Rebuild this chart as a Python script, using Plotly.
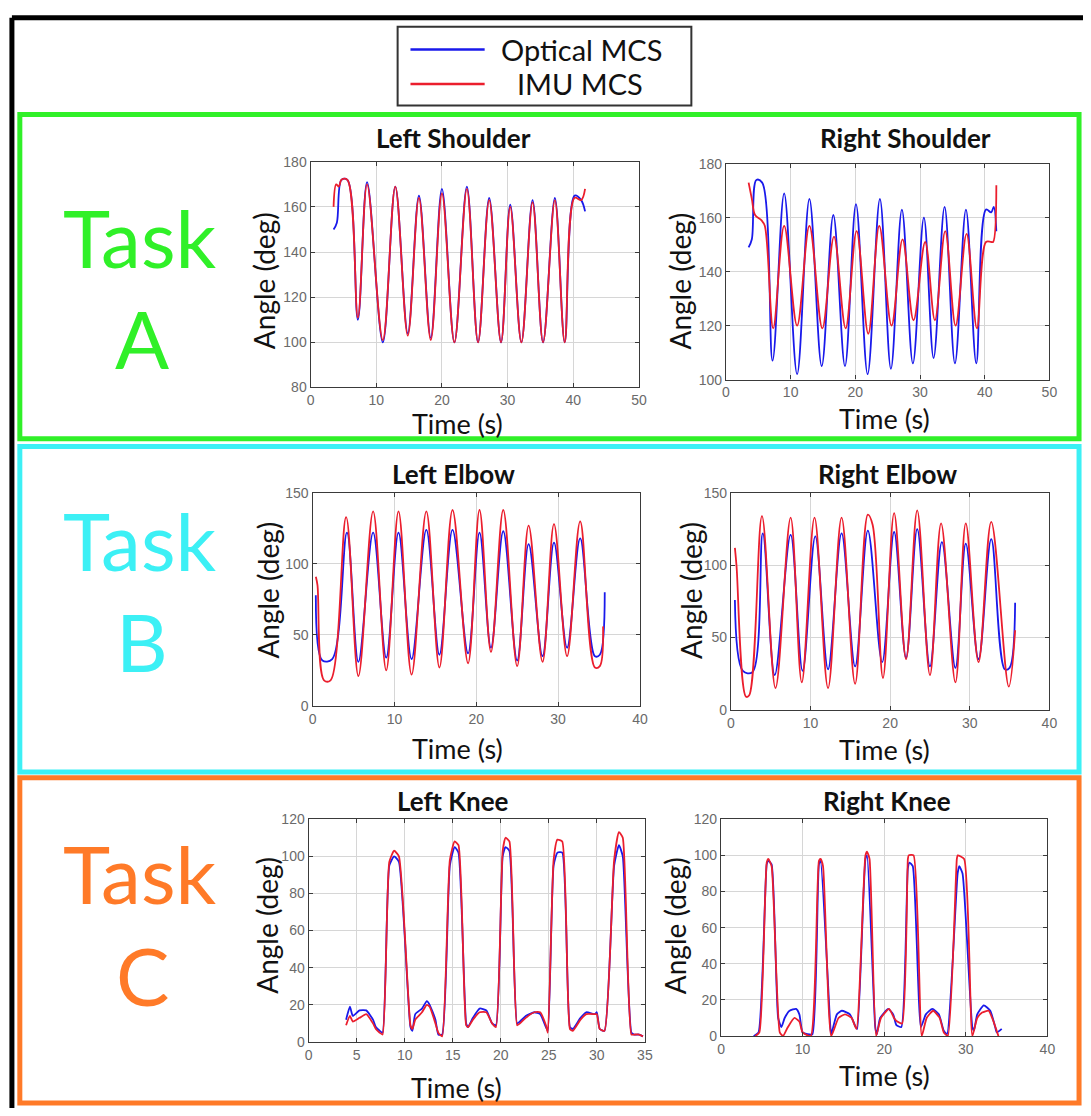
import plotly.graph_objects as go

W, H = 1091, 1116

# ---------------- data ----------------
ls_t_opt = [3.5, 4.0, 4.7, 5.6, 7.2, 8.6, 11.0, 12.9, 14.8, 16.5, 18.3, 20.0, 21.9, 23.8, 25.5, 27.2, 29.0, 30.4, 32.1, 33.8, 35.4, 37.2, 38.7, 40.2, 41.2, 41.8]
ls_opt = [150, 153, 172, 172, 110, 171, 100, 169, 104, 165, 102, 168, 100, 169, 100, 164, 100, 161, 100, 163, 100, 164, 100, 165, 163, 158]
ls_t_imu = [3.5, 3.9, 4.3, 4.7, 5.6, 7.2, 8.6, 11.0, 12.9, 14.8, 16.5, 18.3, 20.0, 21.9, 23.8, 25.5, 27.2, 29.0, 30.4, 32.1, 33.8, 35.4, 37.2, 38.7, 40.2, 41.2, 41.8]
ls_imu = [160, 170, 169, 172, 172, 111, 170, 101, 169, 103, 164, 101, 166, 100, 168, 100, 163, 100, 160, 100, 162, 100, 163, 100, 164, 163, 168]

rs_t_opt = [3.5, 4.0, 4.7, 5.6, 7.2, 9.0, 11.0, 12.9, 14.8, 16.6, 18.4, 20.1, 21.9, 23.8, 25.5, 27.2, 28.9, 30.6, 32.1, 33.8, 35.4, 37.1, 38.7, 40.2, 41.0, 41.4, 41.8]
rs_opt = [149, 152, 174, 173, 107, 169, 102, 167, 105, 161, 105, 165, 102, 167, 104, 163, 106, 160, 108, 164, 106, 163, 106, 163, 162, 164, 155]
rs_t_imu = [3.5, 4.0, 4.5, 5.5, 6.0, 7.3, 9.0, 11.0, 12.9, 14.9, 16.7, 18.5, 20.2, 22.0, 23.7, 25.6, 27.3, 29.0, 30.8, 32.3, 33.9, 35.5, 37.2, 38.8, 40.2, 41.0, 41.3, 41.8]
rs_imu = [173, 167, 161, 159, 157, 119, 157, 120, 157, 119, 153, 119, 155, 117, 157, 120, 152, 122, 151, 122, 155, 120, 154, 119, 151, 151, 151, 172]

le_t_opt = [0.4, 1.2, 2.4, 4.2, 5.6, 7.4, 9.0, 10.5, 12.1, 13.9, 15.5, 17.1, 19.0, 20.4, 21.8, 23.3, 25.0, 26.4, 28.1, 29.5, 31.1, 32.7, 34.5, 35.1, 35.7]
le_opt = [78, 32, 33, 122, 31, 122, 34, 122, 33, 124, 36, 124, 37, 122, 41, 123, 32, 114, 35, 115, 41, 118, 35, 36, 80]
le_t_imu = [0.4, 0.6, 1.4, 2.2, 4.1, 5.6, 7.4, 9.0, 10.5, 12.1, 13.9, 15.5, 17.1, 19.0, 20.4, 21.8, 23.3, 25.0, 26.4, 28.1, 29.5, 31.1, 32.7, 34.5, 35.1, 35.5]
le_imu = [91, 85, 18, 18, 133, 21, 137, 25, 137, 22, 137, 27, 138, 30, 138, 38, 138, 28, 127, 31, 128, 35, 130, 27, 28, 56]

re_t_opt = [0.5, 1.5, 2.7, 4.0, 5.5, 7.5, 9.0, 10.6, 12.2, 13.9, 15.6, 17.2, 19.0, 20.5, 22.0, 23.4, 25.0, 26.5, 28.2, 29.5, 31.1, 32.7, 34.4, 35.0, 35.7]
re_opt = [76, 27, 26, 122, 24, 121, 27, 120, 28, 122, 30, 124, 33, 123, 36, 125, 30, 116, 29, 115, 35, 118, 28, 29, 74]
re_t_imu = [0.5, 0.7, 1.9, 2.3, 3.9, 5.6, 7.5, 8.9, 10.5, 12.2, 13.9, 15.6, 17.2, 17.8, 19.1, 20.5, 22.0, 23.4, 25.0, 26.4, 28.2, 29.5, 31.1, 32.7, 34.9, 35.7]
re_imu = [112, 100, 9, 10, 134, 15, 133, 19, 133, 15, 133, 18, 135, 128, 22, 136, 35, 138, 24, 129, 19, 129, 33, 130, 16, 55]

lk_t = [3.9, 4.3, 4.6, 5.3, 6.0, 6.7, 7.0, 7.4, 7.7, 8.4, 8.9, 9.4, 10.6, 10.8, 11.1, 11.8, 12.3, 12.6, 13.2, 13.5, 13.9, 14.7, 15.2, 15.6, 16.4, 16.6, 17.1, 17.8, 18.5, 19.1, 19.5, 20.2, 20.5, 20.9, 21.7, 22.0, 22.6, 23.5, 24.1, 24.7, 24.9, 25.5, 25.9, 26.4, 27.2, 27.5, 28.3, 28.9, 29.8, 30.0, 30.3, 30.8, 31.8, 32.3, 32.7, 33.6, 33.9, 34.4, 34.8]
lk_opt = [12, 19, 14, 17, 17, 12, 8, 6, 5, 95, 100, 97, 8, 6, 15, 18, 22, 20, 12, 4, 4, 95, 105, 102, 10, 8, 13, 18, 17, 10, 9, 100, 105, 103, 10, 11, 14, 16, 15, 8, 6, 95, 102, 102, 8, 7, 13, 16, 15, 16, 7, 6, 95, 106, 100, 5, 4, 4, 3]
lk_imu = [9, 14, 11, 13, 15, 10, 7, 5, 4, 97, 103, 100, 9, 7, 12, 16, 20, 19, 10, 5, 3, 98, 108, 106, 9, 8, 12, 16, 16, 10, 8, 103, 110, 108, 9, 10, 13, 16, 16, 9, 5, 98, 109, 108, 7, 6, 12, 15, 15, 15, 7, 6, 98, 113, 110, 4, 4, 4, 3]

rk_t_opt = [4.0, 4.6, 5.6, 5.8, 6.2, 7.0, 7.4, 7.8, 8.4, 9.2, 9.6, 10.0, 10.6, 11.2, 12.0, 12.2, 13.4, 13.5, 14.2, 14.8, 15.8, 16.5, 16.7, 17.7, 17.9, 18.9, 19.1, 19.5, 20.5, 21.1, 21.5, 22.1, 22.9, 23.1, 23.5, 24.5, 25.1, 25.9, 26.7, 27.3, 27.7, 29.0, 29.2, 29.6, 30.8, 31.0, 31.4, 32.2, 33.0, 33.6, 33.8, 34.4]
rk_opt = [0, 2, 95, 97, 95, 10, 5, 10, 14, 15, 12, 2, 1, 1, 95, 97, 5, 1, 12, 14, 12, 5, 4, 98, 100, 5, 1, 10, 15, 12, 6, 5, 93, 96, 94, 5, 12, 15, 12, 3, 1, 90, 94, 90, 5, 3, 12, 17, 14, 5, 2, 4]
rk_t_imu = [4.2, 4.7, 5.6, 5.8, 6.2, 7.2, 7.6, 8.2, 9.0, 9.6, 10.0, 11.0, 12.0, 12.2, 12.5, 13.5, 14.4, 15.2, 16.0, 16.6, 17.7, 17.9, 18.2, 19.0, 19.6, 20.6, 21.2, 21.6, 22.2, 22.9, 23.0, 23.6, 24.6, 25.2, 26.0, 26.8, 27.3, 27.8, 28.9, 29.0, 29.8, 30.8, 31.4, 32.0, 32.8, 33.4, 34.0]
rk_imu = [0, 2, 96, 98, 94, 2, 0, 5, 10, 8, 2, 0, 97, 98, 94, 0, 10, 12, 10, 4, 100, 102, 98, 0, 10, 15, 10, 8, 7, 98, 100, 100, 0, 10, 14, 10, 2, 0, 98, 100, 98, 0, 10, 13, 14, 8, 0]

panel_titles = ["Left Shoulder", "Right Shoulder", "Left Elbow", "Right Elbow", "Left Knee", "Right Knee"]
series_names = ["Optical MCS", "IMU MCS"]
task_names = ["A", "B", "C"]

# ---------------- layout helpers ----------------
def px(x):
    return x / W

def py(y):
    return 1 - y / H

BLUE = "rgb(25,25,235)"
RED = "rgb(235,30,45)"
GREEN = "rgb(48,240,40)"
CYAN = "rgb(60,240,245)"
ORANGE = "rgb(255,122,40)"

panels = [
    dict(box=(310, 156, 642, 385), xr=[0, 50], xd=10, yr=[80, 180], yd=20,
         data=(ls_t_opt, ls_opt, ls_t_imu, ls_imu), shape="spline", sm=1.0,
         title=(454, 132), xt=(459, 422), yt=(263, 277)),
    dict(box=(730, 158, 1057, 377), xr=[0, 50], xd=10, yr=[100, 180], yd=20,
         data=(rs_t_opt, rs_opt, rs_t_imu, rs_imu), shape="spline", sm=1.0,
         title=(912, 132), xt=(890, 416), yt=(684, 277)),
    dict(box=(312, 492, 643, 708), xr=[0, 40], xd=10, yr=[0, 150], yd=50,
         data=(le_t_opt, le_opt, le_t_imu, le_imu), shape="spline", sm=1.0,
         title=(454, 473), xt=(459, 751), yt=(266, 591)),
    dict(box=(735, 492, 1057, 712), xr=[0, 40], xd=10, yr=[0, 150], yd=50,
         data=(re_t_opt, re_opt, re_t_imu, re_imu), shape="spline", sm=1.0,
         title=(893, 473), xt=(890, 752), yt=(694, 591)),
    dict(box=(308, 823, 648, 1049), xr=[0, 35], xd=5, yr=[0, 120], yd=20,
         data=(lk_t, lk_opt, lk_t, lk_imu), shape="spline", sm=0.5,
         title=(454, 805), xt=(458, 1095), yt=(266, 931)),
    dict(box=(725, 823, 1055, 1043), xr=[0, 40], xd=10, yr=[0, 120], yd=20,
         data=(rk_t_opt, rk_opt, rk_t_imu, rk_imu), shape="spline", sm=0.5,
         title=(893, 805), xt=(890, 1083), yt=(678, 931)),
]

fig = go.Figure()
annotations = []
shapes = []
layout_axes = {}

LABEL_FONT = "Lato, 'Open Sans', sans-serif"

for i, p in enumerate(panels):
    n = i + 1
    xs = "" if n == 1 else str(n)
    x0, y0, x1, y1 = p["box"]
    t_o, v_o, t_i, v_i = p["data"]
    fig.add_trace(go.Scatter(x=t_o, y=v_o, mode="lines", name=series_names[0],
                             line=dict(color=BLUE, width=1.8, shape=p["shape"], smoothing=p["sm"]),
                             xaxis="x" + xs, yaxis="y" + xs, showlegend=False))
    fig.add_trace(go.Scatter(x=t_i, y=v_i, mode="lines", name=series_names[1],
                             line=dict(color=RED, width=1.8, shape=p["shape"], smoothing=p["sm"]),
                             xaxis="x" + xs, yaxis="y" + xs, showlegend=False))
    common = dict(showline=True, linecolor="#3a3a3a", linewidth=1.2, mirror="ticks",
                  ticks="inside", ticklen=4, tickcolor="#3a3a3a",
                  showgrid=True, gridcolor="#d6d6d6", gridwidth=1, zeroline=False,
                  tickfont=dict(family="Liberation Sans, Arial, sans-serif", size=14, color="#6a6a6a"),
                  fixedrange=True)
    layout_axes["xaxis" + xs] = dict(domain=[px(x0), px(x1)], range=p["xr"], dtick=p["xd"],
                                     tick0=0, anchor="y" + xs, **common)
    layout_axes["yaxis" + xs] = dict(domain=[py(y1), py(y0)], range=p["yr"], dtick=p["yd"],
                                     tick0=0, anchor="x" + xs, **common)
    annotations.append(dict(text="<b>" + panel_titles[i] + "</b>", x=px(p["title"][0]), y=py(p["title"][1]),
                            xref="paper", yref="paper", showarrow=False, xanchor="center", yanchor="middle",
                            font=dict(family=LABEL_FONT, size=26, color="#111")))
    annotations.append(dict(text="Time (s)", x=px(p["xt"][0]), y=py(p["xt"][1]),
                            xref="paper", yref="paper", showarrow=False, xanchor="center", yanchor="middle",
                            font=dict(family=LABEL_FONT, size=27, color="#111")))
    annotations.append(dict(text="Angle (deg)", x=px(p["yt"][0]), y=py(p["yt"][1]), textangle=-90,
                            xref="paper", yref="paper", showarrow=False, xanchor="center", yanchor="middle",
                            font=dict(family=LABEL_FONT, size=28, color="#111")))

# Task group boxes and labels
task_boxes = [(108, 437, GREEN, 232, 335), (445, 775, CYAN, 540, 642), (781, 1111, ORANGE, 878, 981)]
for k, (ya, yb, col, ty1, ty2) in enumerate(task_boxes):
    shapes.append(dict(type="rect", xref="paper", yref="paper", x0=px(16), x1=px(1087),
                       y0=py(yb), y1=py(ya), line=dict(color=col, width=5), layer="below"))
    annotations.append(dict(text="Task", x=px(138), y=py(ty1), xref="paper", yref="paper",
                            showarrow=False, xanchor="center", yanchor="middle",
                            font=dict(family=LABEL_FONT, size=80, color=col)))
    annotations.append(dict(text=task_names[k], x=px(140), y=py(ty2), xref="paper", yref="paper",
                            showarrow=False, xanchor="center", yanchor="middle",
                            font=dict(family=LABEL_FONT, size=80, color=col)))

# outer black frame (top + left)
shapes.append(dict(type="line", xref="paper", yref="paper", x0=px(8), x1=px(1091), y0=py(10), y1=py(10),
                   line=dict(color="black", width=5)))
shapes.append(dict(type="line", xref="paper", yref="paper", x0=px(8), x1=px(8), y0=py(10), y1=py(1116),
                   line=dict(color="black", width=5)))

# legend box
shapes.append(dict(type="rect", xref="paper", yref="paper", x0=px(398), x1=px(695), y0=py(99), y1=py(19),
                   line=dict(color="#333", width=2), fillcolor="white"))
for name, col, yy, tx in [(series_names[0], BLUE, 42, 501), (series_names[1], RED, 77, 517)]:
    shapes.append(dict(type="line", xref="paper", yref="paper", x0=px(411), x1=px(486), y0=py(yy), y1=py(yy),
                       line=dict(color=col, width=2.5)))
    annotations.append(dict(text=name, x=px(tx), y=py(yy), xref="paper", yref="paper", showarrow=False,
                            xanchor="left", yanchor="middle",
                            font=dict(family=LABEL_FONT, size=29, color="#111")))

fig.update_layout(width=W, height=H, margin=dict(l=0, r=0, t=0, b=0),
                  paper_bgcolor="white", plot_bgcolor="white",
                  annotations=annotations, shapes=shapes, showlegend=False, **layout_axes)

fig.write_html("out.html", config={"displayModeBar": False},
               post_script="document.body.style.margin='0';document.body.style.overflow='hidden';")
